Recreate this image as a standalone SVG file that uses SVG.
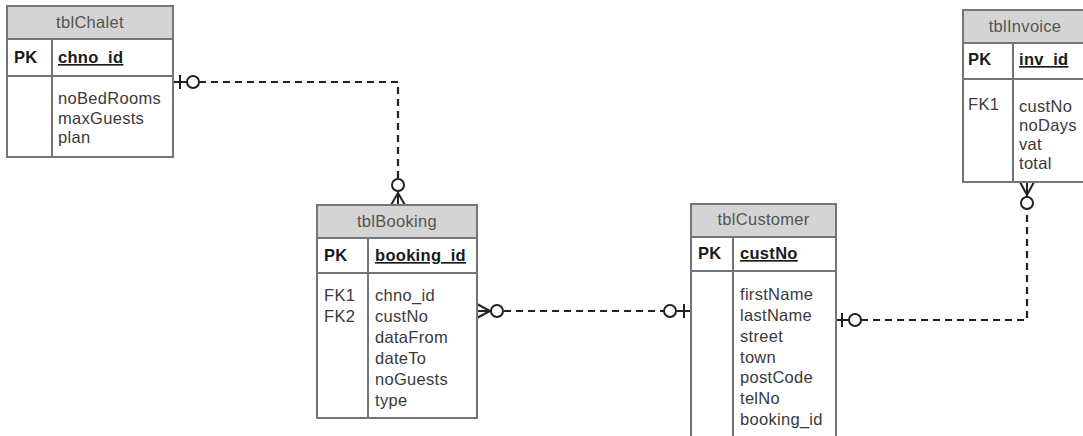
<svg xmlns="http://www.w3.org/2000/svg" width="1083" height="436" viewBox="0 0 1083 436">
<style>
.box{fill:#ffffff;stroke:#757575;stroke-width:2}
.hdr{fill:#d4d4d4;stroke:#757575;stroke-width:2}
.ln{stroke:#757575;stroke-width:2;fill:none}
.t{font-family:"Liberation Sans",Arial,sans-serif;font-size:16.5px;letter-spacing:0.3px;fill:#3a3a3a}
.ttl{font-family:"Liberation Sans",Arial,sans-serif;font-size:16.5px;letter-spacing:0.3px;fill:#555555;text-anchor:middle}
.b{font-family:"Liberation Sans",Arial,sans-serif;font-size:16.5px;letter-spacing:0.3px;font-weight:bold;fill:#1a1a1a}
.u{text-decoration:underline}
.dash{stroke:#222222;stroke-width:2.2;fill:none;stroke-dasharray:7 5}
.sol{stroke:#222222;stroke-width:2;fill:none}
.circ{stroke:#222222;stroke-width:2;fill:#ffffff}
</style>
<rect width="1083" height="436" fill="#ffffff"/>

<g id="connectors">
  <!-- Chalet to Booking -->
  <path class="sol" d="M173,82 H187 M180,75 V89"/>
  <path class="dash" d="M199,82 H398 V179"/>
  <circle class="circ" cx="193" cy="82" r="6"/>
  <circle class="circ" cx="398" cy="185" r="6"/>
  <path class="sol" d="M398,191 V205 M398,193 L391,205 M398,193 L405,205"/>
  <!-- Booking to Customer -->
  <path class="sol" d="M477,304 L490,311 L477,318 M477,311 H491"/>
  <circle class="circ" cx="497" cy="311" r="6"/>
  <path class="dash" d="M504,311 H664"/>
  <circle class="circ" cx="670" cy="311" r="6"/>
  <path class="sol" d="M676,311 H691 M684,304 V318"/>
  <!-- Customer to Invoice -->
  <path class="sol" d="M836,320 H849 M842,313 V327"/>
  <circle class="circ" cx="855" cy="320" r="6"/>
  <path class="dash" d="M861,320 H1027 V209"/>
  <circle class="circ" cx="1027" cy="203" r="6"/>
  <path class="sol" d="M1027,197 V182 M1027,195 L1020,182 M1027,195 L1034,182"/>
</g>

<g id="tblChalet">
  <rect class="box" x="7" y="6" width="166" height="151"/>
  <rect class="hdr" x="7" y="6" width="166" height="33"/>
  <line class="ln" x1="7" y1="76" x2="173" y2="76"/>
  <line class="ln" x1="52" y1="39" x2="52" y2="157"/>
  <text class="ttl" x="90" y="28">tblChalet</text>
  <text class="b" x="14" y="63">PK</text>
  <text class="b u" x="58" y="63">chno_id</text>
  <text class="t" x="58" y="104">noBedRooms</text>
  <text class="t" x="58" y="123.5">maxGuests</text>
  <text class="t" x="58" y="143">plan</text>
</g>

<g id="tblBooking">
  <rect class="box" x="317" y="205" width="160" height="213"/>
  <rect class="hdr" x="317" y="205" width="160" height="33"/>
  <line class="ln" x1="317" y1="273" x2="477" y2="273"/>
  <line class="ln" x1="368" y1="238" x2="368" y2="418"/>
  <text class="ttl" x="397" y="227">tblBooking</text>
  <text class="b" x="324" y="261">PK</text>
  <text class="b u" x="375" y="261">booking_id</text>
  <text class="t" x="324" y="301">FK1</text>
  <text class="t" x="324" y="322">FK2</text>
  <text class="t" x="375" y="301">chno_id</text>
  <text class="t" x="375" y="322">custNo</text>
  <text class="t" x="375" y="343">dataFrom</text>
  <text class="t" x="375" y="364">dateTo</text>
  <text class="t" x="375" y="385">noGuests</text>
  <text class="t" x="375" y="406">type</text>
</g>

<g id="tblCustomer">
  <rect class="box" x="691" y="204" width="145" height="245"/>
  <rect class="hdr" x="691" y="204" width="145" height="33"/>
  <line class="ln" x1="691" y1="271" x2="836" y2="271"/>
  <line class="ln" x1="733" y1="237" x2="733" y2="449"/>
  <text class="ttl" x="763.5" y="225">tblCustomer</text>
  <text class="b" x="698" y="259">PK</text>
  <text class="b u" x="740" y="259">custNo</text>
  <text class="t" x="740" y="300">firstName</text>
  <text class="t" x="740" y="321">lastName</text>
  <text class="t" x="740" y="342">street</text>
  <text class="t" x="740" y="363">town</text>
  <text class="t" x="740" y="383">postCode</text>
  <text class="t" x="740" y="404">telNo</text>
  <text class="t" x="740" y="425">booking_id</text>
</g>

<g id="tblInvoice">
  <rect class="box" x="963" y="10" width="124" height="172"/>
  <rect class="hdr" x="963" y="10" width="124" height="33"/>
  <line class="ln" x1="963" y1="79" x2="1087" y2="79"/>
  <line class="ln" x1="1013" y1="43" x2="1013" y2="182"/>
  <text class="ttl" x="1025" y="32">tblInvoice</text>
  <text class="b" x="968" y="65">PK</text>
  <text class="b u" x="1019" y="65">inv_id</text>
  <text class="t" x="968" y="110">FK1</text>
  <text class="t" x="1019" y="112">custNo</text>
  <text class="t" x="1019" y="131">noDays</text>
  <text class="t" x="1019" y="150">vat</text>
  <text class="t" x="1019" y="169">total</text>
</g>
</svg>
